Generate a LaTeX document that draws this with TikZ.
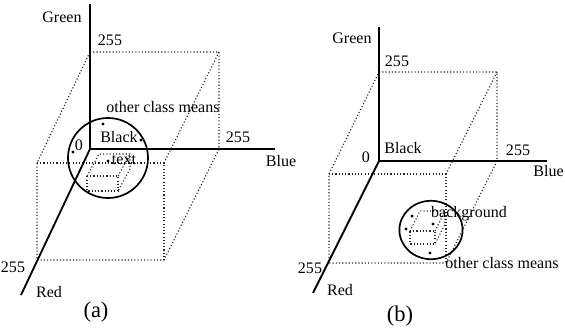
\documentclass[tikz,border=0pt]{standalone}
\usepackage{fontspec}
\setmainfont{Liberation Serif}

\begin{document}
\begin{tikzpicture}[x=0.025cm, y=-0.025cm,
  axisline/.style={line width=1.3pt},
  cubeedge/.style={line width=0.8pt, dash pattern=on 0.8pt off 1.5pt, black!85},
  ring/.style={line width=1.2pt},
  meandot/.style={circle, fill, inner sep=0pt, minimum size=2.4pt},
  lbl/.style={font=\fontsize{11.4}{13}\selectfont, inner sep=0pt},
  captn/.style={font=\fontsize{16}{18}\selectfont, inner sep=0pt}]
\useasboundingbox (0,0) rectangle (565,333);
% (a) axes and cube
\coordinate (Oa) at (90,149);
\coordinate (Ga) at (90,52);
\coordinate (Ba) at (219,149);
\coordinate (Ra) at (37,260);
\coordinate (GBa) at (219,52);
\coordinate (RGa) at (37,163);
\coordinate (RBa) at (164,260);
\coordinate (RGBa) at (164,163);
\coordinate (GendA) at (90,4);
\coordinate (BendA) at (275,149);
\coordinate (RendA) at (21,295);
\draw[cubeedge] (Ga) -- (GBa) -- (Ba) -- (RBa) -- (Ra) -- (RGa) -- cycle;
\draw[cubeedge] (RGa) -- (RGBa) -- (RBa);
\draw[cubeedge] (GBa) -- (RGBa);
\draw[axisline] (GendA) -- (Oa) -- (BendA);
\draw[axisline] (Oa) -- (RendA);
% small cube
\coordinate (sa1) at (87,176);
\coordinate (sa2) at (118,176);
\coordinate (sa3) at (118,191);
\coordinate (sa4) at (87,191);
\coordinate (sa5) at (99,154);
\coordinate (sa6) at (130,154);
\coordinate (sa7) at (130,169);
\draw[cubeedge] (sa1) -- (sa2) -- (sa3) -- (sa4) -- cycle;
\draw[cubeedge] (sa1) -- (sa5) -- (sa6) -- (sa7) -- (sa3);
\draw[cubeedge] (sa2) -- (sa6);
\coordinate (Ca) at (108,158);
\draw[ring] (Ca) circle[radius=1.0cm];
\node[meandot] (ma1) at (103,124) {};
\node[meandot] (ma2) at (141,140) {};
\node[meandot] (ma3) at (73,152) {};
\node[meandot] (ma4) at (108,161) {};
\node[lbl] (greenA) at (62,17) {Green};
\node[lbl] (gmaxA) at (110,40) {255};
\node[lbl] (otherA) at (163,107) {other class means};
\node[lbl] (blackA) at (119,137) {Black};
\node[lbl] (zeroA) at (79,145) {0};
\node[lbl] (bmaxA) at (238,137) {255};
\node[lbl] (blueA) at (281,161) {Blue};
\node[lbl] (textA) at (124,160) {text};
\node[lbl] (rmaxA) at (13,267) {255};
\node[lbl] (redA) at (49,292) {Red};
\node[captn] (capA) at (96,312) {(a)};
% (b) axes and cube
\coordinate (Ob) at (379,161);
\coordinate (Gb) at (379,72);
\coordinate (Bb) at (497,161);
\coordinate (Rb) at (329,263);
\coordinate (GBb) at (497,72);
\coordinate (RGb) at (329,174);
\coordinate (RBb) at (446,263);
\coordinate (RGBb) at (446,174);
\coordinate (GendB) at (379,27);
\coordinate (BendB) at (547,161);
\coordinate (RendB) at (313,293);
\draw[cubeedge] (Gb) -- (GBb) -- (Bb) -- (RBb) -- (Rb) -- (RGb) -- cycle;
\draw[cubeedge] (RGb) -- (RGBb) -- (RBb);
\draw[cubeedge] (GBb) -- (RGBb);
\draw[axisline] (GendB) -- (Ob) -- (BendB);
\draw[axisline] (Ob) -- (RendB);
% small cube
\coordinate (sb1) at (410,231);
\coordinate (sb2) at (435,231);
\coordinate (sb3) at (435,244);
\coordinate (sb4) at (410,244);
\coordinate (sb5) at (420,211);
\coordinate (sb6) at (445,211);
\coordinate (sb7) at (445,224);
\draw[cubeedge] (sb1) -- (sb2) -- (sb3) -- (sb4) -- cycle;
\draw[cubeedge] (sb1) -- (sb5) -- (sb6) -- (sb7) -- (sb3);
\draw[cubeedge] (sb2) -- (sb6);
\coordinate (Cb) at (431,230);
\draw[ring] (Cb) ellipse[x radius=0.79cm, y radius=0.73cm];
\node[meandot] (mb1) at (412,216) {};
\node[meandot] (mb2) at (406,229) {};
\node[meandot] (mb3) at (433,224) {};
\node[meandot] (mb4) at (430,253) {};
\node[lbl] (greenB) at (352,38) {Green};
\node[lbl] (gmaxB) at (397,61) {255};
\node[lbl] (blackB) at (403,148) {Black};
\node[lbl] (zeroB) at (366,157) {0};
\node[lbl] (bmaxB) at (518,150) {255};
\node[lbl, anchor=east] (blueB) at (564,171) {Blue};
\node[lbl] (backB) at (469,214) {background};
\node[lbl] (otherB) at (502,263) {other class means};
\node[lbl] (rmaxB) at (310,268) {255};
\node[lbl] (redB) at (340,290) {Red};
\node[captn] (capB) at (400,316) {(b)};
\end{tikzpicture}
\end{document}
